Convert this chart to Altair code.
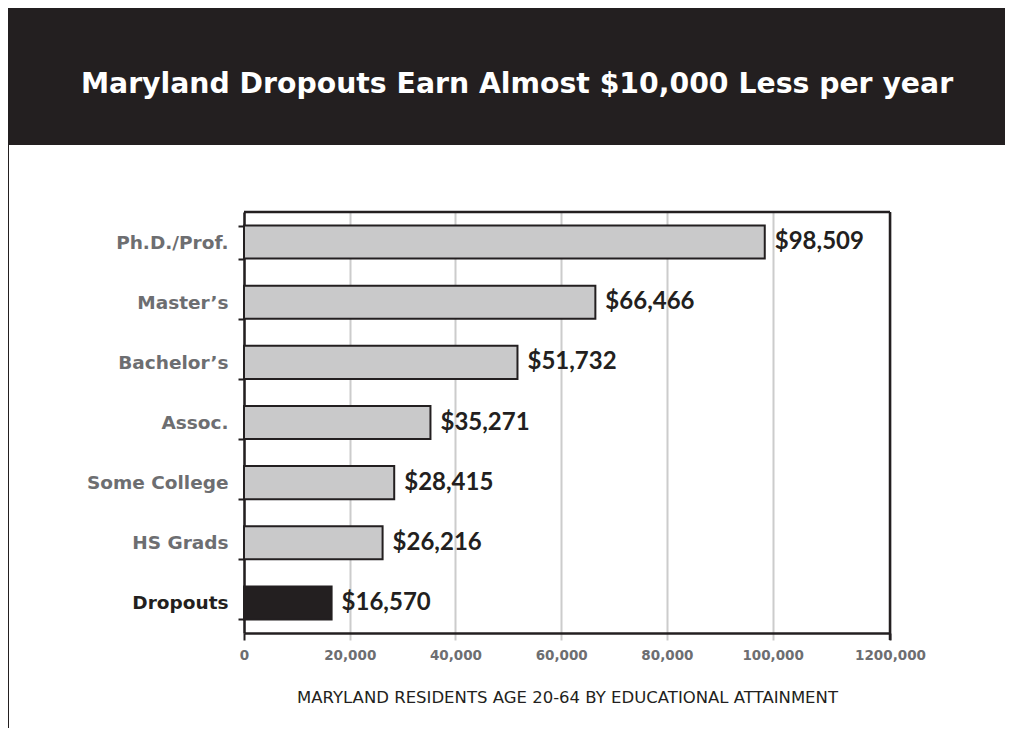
import altair as alt
import pandas as pd

# ---- data ----
categories = ["Ph.D./Prof.", "Master’s", "Bachelor’s", "Assoc.", "Some College", "HS Grads", "Dropouts"]
earnings = [98509, 66466, 51732, 35271, 28415, 26216, 16570]
highlight = ["no", "no", "no", "no", "no", "no", "yes"]

x_tick_values = [0, 20000, 40000, 60000, 80000, 100000, 122200]
x_tick_labels = ["0", "20,000", "40,000", "60,000", "80,000", "100,000", "1200,000"]

title_text = "Maryland Dropouts Earn Almost $10,000 Less per year"
x_title = "MARYLAND RESIDENTS AGE 20-64 BY EDUCATIONAL ATTAINMENT"

DARK = "#231f20"
GREY_BAR = "#c9c9ca"
GREY_TXT = "#6d6e71"
GRID = "#cccccc"

df = pd.DataFrame({"category": categories, "earnings": earnings, "highlight": highlight})

label_map = "{" + ",".join(f"'{v}':'{l}'" for v, l in zip(x_tick_values, x_tick_labels)) + "}"
label_expr = f"{label_map}[datum.value]"

x_scale = alt.Scale(domain=[0, x_tick_values[-1]], nice=False, zero=True)
y_scale = alt.Scale(domain=categories, paddingInner=0.45, paddingOuter=0.225)

x_axis = alt.Axis(
    values=x_tick_values,
    labelExpr=label_expr,
    title=x_title,
    grid=True,
    gridColor=GRID,
    gridWidth=2,
    domainColor=DARK,
    domainWidth=2.5,
    tickColor={"condition": {"test": "datum.value == 0 || datum.value > 110000", "value": DARK}, "value": GRID},
    tickWidth=2,
    tickSize=7,
    labelFont="DejaVu Sans",
    labelFontWeight="bold",
    labelFontSize=13.5,
    labelColor=GREY_TXT,
    labelPadding=8,
    labelFlush=False,
    titleFont="DejaVu Sans",
    titleFontWeight="normal",
    titleFontSize=16.5,
    titleColor=DARK,
    titlePadding=28,
)

y_axis = alt.Axis(
    title=None,
    grid=False,
    domainColor=DARK,
    domainWidth=2.5,
    tickColor=DARK,
    tickWidth=2,
    tickSize=6,
    tickBand="extent",
    labelFont="DejaVu Sans",
    labelFontWeight="bold",
    labelFontSize=18.5,
    labelColor={"condition": {"test": "datum.value == 'Dropouts'", "value": DARK}, "value": GREY_TXT},
    labelPadding=10,
)

base = alt.Chart(df)

bars = base.mark_bar(stroke=DARK, strokeWidth=2).encode(
    x=alt.X("earnings:Q", scale=x_scale, axis=x_axis),
    y=alt.Y("category:N", scale=y_scale, axis=y_axis, sort=categories),
    color=alt.Color("highlight:N", scale=alt.Scale(domain=["no", "yes"], range=[GREY_BAR, DARK]), legend=None),
)

values_text = base.mark_text(
    align="left", baseline="middle", dx=10, font="Lato", fontWeight="bold", fontSize=24, color=DARK
).encode(
    x=alt.X("earnings:Q", scale=x_scale),
    y=alt.Y("category:N", scale=y_scale, sort=categories),
    text=alt.Text("earnings:Q", format="$,"),
)

one = pd.DataFrame({"k": [0]})
band = alt.Chart(one).mark_rect(color=DARK).encode(
    x=alt.value(-237), x2=alt.value(900), y=alt.value(-205), y2=alt.value(-67)
)
left_border = alt.Chart(one).mark_rule(color=DARK, strokeWidth=2).encode(
    x=alt.value(-236), y=alt.value(-67), y2=alt.value(700)
)
top_border = alt.Chart(one).mark_rule(color=DARK, strokeWidth=2.5).encode(
    x=alt.value(0), x2=alt.value(646), y=alt.value(0)
)
right_border = alt.Chart(one).mark_rule(color=DARK, strokeWidth=2.5).encode(
    x=alt.value(646), y=alt.value(0), y2=alt.value(428)
)

chart = alt.layer(band, left_border, bars, values_text, top_border, right_border).properties(
    width=646,
    height=421,
    title=alt.TitleParams(
        text=title_text,
        color="white",
        font="DejaVu Sans",
        fontWeight="bold",
        fontSize=28.3,
        anchor="middle",
        offset=-92,
        dx=-50,
        frame="group",
    ),
    autosize=alt.AutoSizeParams(type="none"),
    padding={"left": 236, "top": 204, "right": 115, "bottom": 95},
).configure_view(stroke=None).configure(background="white")

chart.save("out.html", embed_options={"renderer": "svg", "actions": False})
